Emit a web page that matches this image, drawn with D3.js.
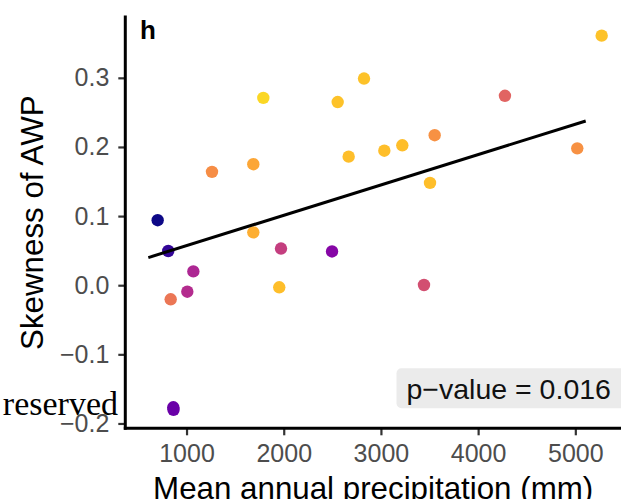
<!DOCTYPE html>
<html>
<head>
<meta charset="utf-8">
<script src="https://cdn.jsdelivr.net/npm/d3@7"></script>
<style>
  html, body { margin: 0; padding: 0; background: #ffffff; }
  svg { display: block; }
</style>
</head>
<body>
<svg id="chart" width="621" height="499"></svg>
<script>
// ---- data ----
const precip = [703, 812, 1262, 1687, 1790, 1687, 1972, 5271, 2826, 2555, 4276, 3553,
                2668, 3035, 3220, 5020, 3505, 2497, 1070, 1008, 837, 1954, 864, 866, 3443];
const skewness = [0.094, 0.0495, 0.164, 0.175, 0.271, 0.0765, 0.053, 0.361, 0.299, 0.265, 0.274, 0.217,
                  0.186, 0.1946, 0.2024, 0.198, 0.148, 0.0488, 0.020, -0.0094, -0.0204, -0.003, -0.1766, -0.1802, 0.0003];
const colourValue = [0.0, 0.07, 0.73, 0.8, 0.92, 0.82, 0.47, 0.87, 0.87, 0.87, 0.6, 0.74,
                     0.86, 0.86, 0.86, 0.74, 0.86, 0.27, 0.39, 0.41, 0.66, 0.86, 0.2, 0.2, 0.53];
const fitX = [607, 5107];
const fitY = [0.040, 0.2376];
const xTicks = [1000, 2000, 3000, 4000, 5000];
const yTicks = [-0.2, -0.1, 0.0, 0.1, 0.2, 0.3];
const xTitle = "Mean annual precipitation (mm)";
const yTitle = "Skewness of AWP";
const panelTag = "h";
const pLabel = "p\u2212value = 0.016";
const cornerNote = "reserved";

// ---- layout ----
const svg = d3.select("#chart");
const pLeft = 125.3, pTop = 17, pRight = 621, pBottom = 428.3;

const x = d3.scaleLinear().domain([370, 5470]).range([pLeft, pRight]);
const y = d3.scaleLinear().domain([-0.207, 0.388]).range([pBottom, pTop]);

const fmtY = v => d3.format(".1f")(v).replace("-", "\u2212");

// points
const pts = precip.map((p, i) => ({p, s: skewness[i], c: colourValue[i]}));
svg.append("g").selectAll("circle").data(pts).join("circle")
  .attr("cx", d => x(d.p)).attr("cy", d => y(d.s)).attr("r", 6.2)
  .attr("fill", d => d3.interpolatePlasma(d.c));

// regression line
svg.append("path")
  .datum(fitX.map((v, i) => [v, fitY[i]]))
  .attr("d", d3.line().x(d => x(d[0])).y(d => y(d[1])))
  .attr("fill", "none").attr("stroke", "#000").attr("stroke-width", 3);

// axes
const xAxis = svg.append("g").attr("transform", `translate(0,${pBottom})`)
  .call(d3.axisBottom(x).tickValues(xTicks).tickSize(7).tickPadding(9).tickSizeOuter(0).tickFormat(d3.format("d")));
const yAxis = svg.append("g").attr("transform", `translate(${pLeft},0)`)
  .call(d3.axisLeft(y).tickValues(yTicks).tickSize(7).tickPadding(9).tickSizeOuter(0).tickFormat(fmtY));

[xAxis, yAxis].forEach(a => {
  a.select(".domain").remove();
  a.selectAll(".tick line").attr("stroke", "#333").attr("stroke-width", 2.2);
  a.selectAll(".tick text").attr("fill", "#4d4d4d")
    .style("font-family", "'Liberation Sans', Arial, sans-serif").style("font-size", "25px");
});
// axis lines
svg.append("line").attr("x1", pLeft).attr("x2", pRight).attr("y1", pBottom).attr("y2", pBottom)
  .attr("stroke", "#000").attr("stroke-width", 3).attr("stroke-linecap", "square");
svg.append("line").attr("x1", pLeft).attr("x2", pLeft).attr("y1", pTop).attr("y2", pBottom)
  .attr("stroke", "#000").attr("stroke-width", 3).attr("stroke-linecap", "square");

// titles
svg.append("text").attr("x", (pLeft + pRight) / 2).attr("y", 499).attr("text-anchor", "middle")
  .style("font-family", "'Liberation Sans', Arial, sans-serif").style("font-size", "31.3px")
  .attr("fill", "#000").text(xTitle);
svg.append("text").attr("transform", `translate(43,${(pTop + pBottom) / 2}) rotate(-90)`)
  .attr("text-anchor", "middle")
  .style("font-family", "'Liberation Sans', Arial, sans-serif").style("font-size", "31.3px")
  .attr("fill", "#000").text(yTitle);

// panel tag
svg.append("text").attr("x", 140).attr("y", 38.5)
  .style("font-family", "'Liberation Sans', Arial, sans-serif").style("font-size", "26px")
  .style("font-weight", "bold").attr("fill", "#000").text(panelTag);

// p-value label
svg.append("rect").attr("x", 396.5).attr("y", 368.3).attr("width", 240).attr("height", 40)
  .attr("rx", 5).attr("fill", "#ebebeb");
svg.append("text").attr("x", 406.5).attr("y", 399.3)
  .style("font-family", "'Liberation Sans', Arial, sans-serif").style("font-size", "28.5px")
  .attr("fill", "#111").text(pLabel);

// corner note (cropped copyright text)
svg.append("text").attr("x", 118).attr("y", 415).attr("text-anchor", "end")
  .style("font-family", "'Liberation Serif', 'Times New Roman', serif").style("font-size", "34px")
  .attr("fill", "#000").text(cornerNote);
</script>
</body>
</html>
